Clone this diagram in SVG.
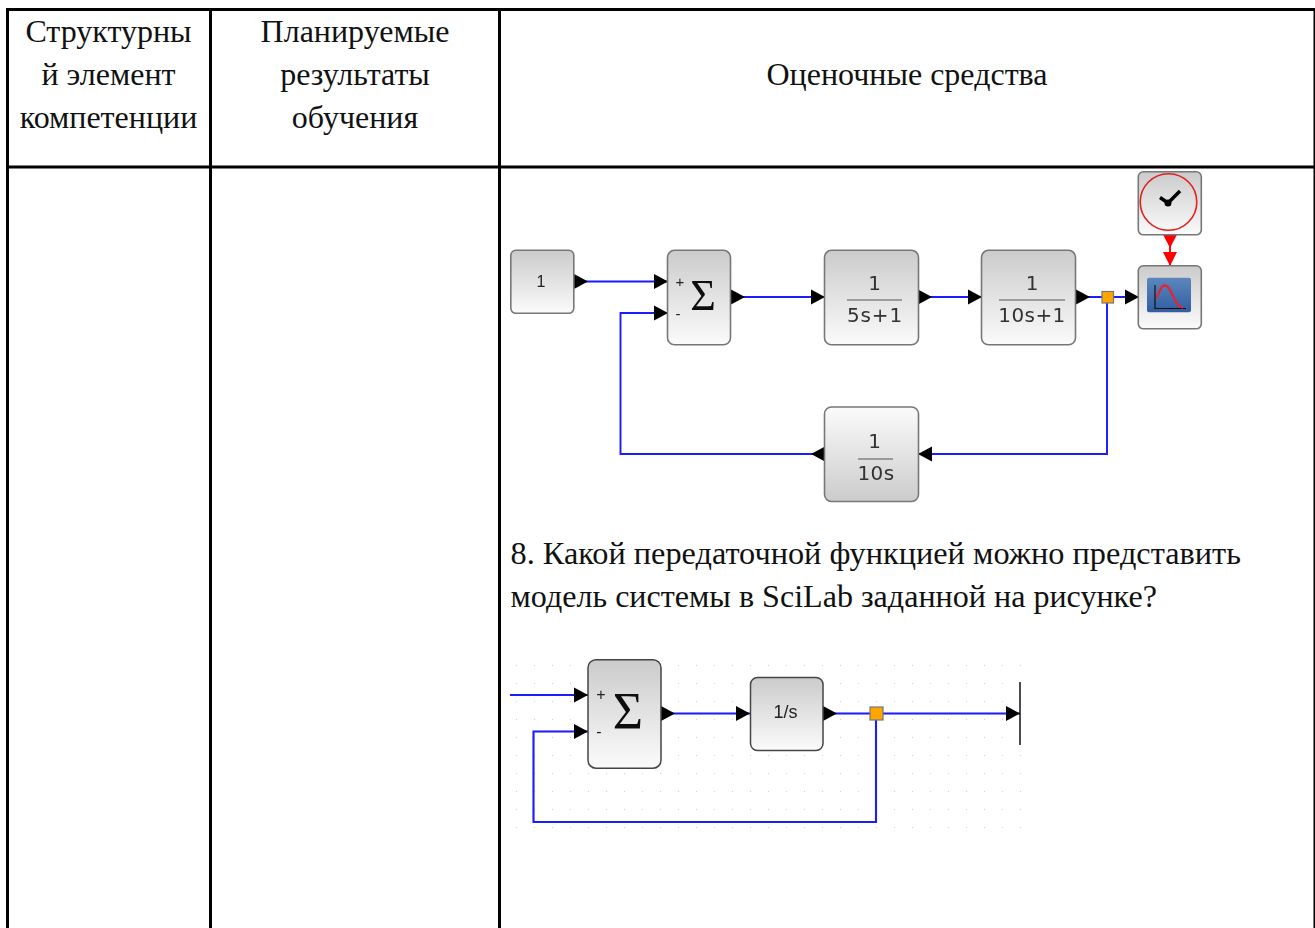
<svg xmlns="http://www.w3.org/2000/svg" width="1315" height="928" viewBox="0 0 1315 928">
<style>
.cell{font-family:"Liberation Serif","Times New Roman",serif;font-size:32px;fill:#111;text-anchor:middle}
.body{font-family:"Liberation Serif","Times New Roman",serif;font-size:32.2px;fill:#111}
.rule{fill:#000}
.blk{fill:url(#g);stroke:#777;stroke-width:1.6}
.blkF{fill:url(#gf);stroke:#777;stroke-width:1.6}
.blk2{fill:url(#g);stroke:#444;stroke-width:1.5}
.wire{fill:none;stroke:#1a1aff;stroke-width:1.9}
.wire2{fill:none;stroke:#1a1aff;stroke-width:2.1}
.math{font-family:"DejaVu Sans",sans-serif;font-size:20px;fill:#333;text-anchor:middle}
.sans{font-family:"Liberation Sans",Arial,sans-serif;fill:#222;text-anchor:middle}
.sig{font-family:"Liberation Serif",serif;fill:#111;text-anchor:middle}
.junc{fill:#ffa500;stroke:#777;stroke-width:1.2}
#connectors,g[id^="n-"]{filter:url(#soft)}
</style>
<defs>
<filter id="soft" filterUnits="userSpaceOnUse" x="0" y="0" width="1315" height="928"><feGaussianBlur stdDeviation="0.35"/></filter>
<linearGradient id="g" x1="0" y1="0" x2="0" y2="1"><stop offset="0" stop-color="#cbcbcb"/><stop offset="1" stop-color="#fbfbfb"/></linearGradient>
<linearGradient id="gf" x1="0" y1="0" x2="0" y2="1"><stop offset="0" stop-color="#fbfbfb"/><stop offset="1" stop-color="#cbcbcb"/></linearGradient>
<linearGradient id="sc" x1="0" y1="0" x2="0" y2="1"><stop offset="0" stop-color="#5e86bd"/><stop offset="1" stop-color="#2f5ea3"/></linearGradient>
<pattern id="dots" x="516" y="665" width="18" height="18" patternUnits="userSpaceOnUse"><rect x="0" y="0" width="1" height="1" fill="#cfcfcf"/></pattern>
<polygon id="pr" points="0,-7.500 14,0 0,7.500" fill="#000"/>
<polygon id="pl" points="14,-7.500 0,0 14,7.500" fill="#000"/>
</defs>
<rect width="1315" height="928" fill="#fff"/>

<g id="table">
<rect class="rule" x="6" y="8" width="1309" height="3"/>
<rect class="rule" x="6" y="165.500" width="1309" height="3"/>
<rect class="rule" x="6" y="8" width="3" height="920"/>
<rect class="rule" x="209" y="8" width="3" height="920"/>
<rect class="rule" x="498" y="8" width="3" height="920"/>
<rect class="rule" x="1313.500" y="8" width="1.500" height="920"/>
<text class="cell" x="108.500" y="42">Структурны</text>
<text class="cell" x="108.500" y="84.500">й элемент</text>
<text class="cell" x="108.500" y="127.500">компетенции</text>
<text class="cell" x="355" y="42">Планируемые</text>
<text class="cell" x="355" y="84.500">результаты</text>
<text class="cell" x="355" y="127.500">обучения</text>
<text class="cell" x="907" y="84.500">Оценочные средства</text>
<text class="body" x="510.500" y="563.500" style="font-size:32.3px">8. Какой передаточной функцией можно представить</text>
<text class="body" x="510.500" y="606.500" style="font-size:32.1px">модель системы в SciLab заданной на рисунке?</text>
</g>

<rect id="grid" x="514" y="658" width="510" height="170" fill="url(#dots)"/>

<g id="connectors">
<path class="wire" d="M574 281.500H667"/>
<path class="wire" d="M824 454H620.500V313H667"/>
<path class="wire" d="M731 297H824"/>
<path class="wire" d="M918 297H981"/>
<path class="wire" d="M1076 297H1138"/>
<path class="wire" d="M1107 297V454H918"/>
<path d="M1170 235V265" stroke="#f00" stroke-width="1.900" fill="none"/>
<polygon points="1163,234.500 1177,234.500 1170,248" fill="#f00"/>
<polygon points="1163,252 1177,252 1170,266" fill="#f00"/>
<use href="#pr" x="574" y="281.500"/>
<use href="#pr" x="654" y="281.500"/>
<use href="#pr" x="654" y="313"/>
<use href="#pr" x="731" y="297"/>
<use href="#pr" x="811" y="297"/>
<use href="#pr" x="918" y="297"/>
<use href="#pr" x="968" y="297"/>
<use href="#pr" x="1076" y="297"/>
<use href="#pr" x="1125" y="297"/>
<use href="#pl" x="811" y="454"/>
<use href="#pl" x="918" y="454"/>

<path class="wire2" d="M510 695H588"/>
<path class="wire2" d="M876 714V822H533.500V731.500H588"/>
<path class="wire2" d="M661 713.500H750"/>
<path class="wire2" d="M823 713.500H1020"/>
<use href="#pr" x="574" y="695"/>
<use href="#pr" x="574" y="731.500"/>
<use href="#pr" x="661" y="713.500"/>
<use href="#pr" x="736" y="713.500"/>
<use href="#pr" x="823" y="713.500"/>
<use href="#pr" x="1006" y="713.500"/>
</g>

<g id="n-const">
<rect class="blk" x="510.800" y="250.300" width="63" height="63" rx="5"/>
<text class="sans" x="541" y="287" font-size="16">1</text>
</g>
<g id="n-sum1">
<rect class="blk" x="667.500" y="250.300" width="63" height="94.500" rx="7"/>
<text class="sans" x="680" y="287" font-size="15">+</text>
<text class="sans" x="678" y="319" font-size="15">-</text>
<text class="sig" x="703" y="310" font-size="44">Σ</text>
</g>
<g id="n-tf1">
<rect class="blk" x="824.500" y="250.300" width="94" height="94.500" rx="7"/>
<text class="math" x="874.500" y="290">1</text>
<rect x="847" y="299.500" width="55" height="1" fill="#555"/>
<text class="math" x="875" y="322" letter-spacing="0.800">5s+1</text>
</g>
<g id="n-tf2">
<rect class="blk" x="981.500" y="250.300" width="94" height="94.500" rx="7"/>
<text class="math" x="1032" y="290">1</text>
<rect x="999" y="299.500" width="66" height="1" fill="#555"/>
<text class="math" x="1032" y="322" letter-spacing="0.400">10s+1</text>
</g>
<g id="n-tf3">
<rect class="blkF" x="824.500" y="407" width="94" height="94.500" rx="7"/>
<text class="math" x="874.500" y="448">1</text>
<rect x="858" y="458.500" width="35" height="1" fill="#555"/>
<text class="math" x="876" y="480" letter-spacing="0.400">10s</text>
</g>
<g id="n-split1">
<rect class="junc" x="1102" y="291.500" width="11.500" height="11.500"/>
</g>
<g id="n-clock">
<rect class="blk" x="1138.300" y="171.800" width="63" height="63" rx="5"/>
<circle cx="1168.500" cy="202" r="28.300" fill="none" stroke="#e02020" stroke-width="1.600"/>
<path d="M1180 191L1168 203L1160 197.500" fill="none" stroke="#000" stroke-width="3.500"/>
<circle cx="1168" cy="203" r="3.500" fill="#000"/>
</g>
<g id="n-scope">
<rect class="blk" x="1138.300" y="265.800" width="63" height="63" rx="5"/>
<rect x="1147" y="277.700" width="44" height="34.500" rx="2" fill="url(#sc)"/>
<path d="M1155 285V308.500H1186" fill="none" stroke="#111" stroke-width="1.200"/>
<path d="M1157 298C1160 287 1164 283 1168 287C1173 293 1175 306 1183 308" fill="none" stroke="#e8242a" stroke-width="2.200"/>
</g>

<g id="n-sum2">
<rect class="blk2" x="588" y="659.700" width="73" height="108.500" rx="8"/>
<text class="sans" x="601" y="700" font-size="16">+</text>
<text class="sans" x="599" y="737" font-size="16">-</text>
<text class="sig" x="628" y="729" font-size="52">Σ</text>
</g>
<g id="n-int">
<rect class="blk2" x="750.500" y="677.500" width="72.500" height="73" rx="7"/>
<text class="sans" x="785.500" y="718" font-size="18">1/s</text>
</g>
<g id="n-split2">
<rect class="junc" x="870" y="707" width="13" height="13"/>
</g>
<g id="n-sink">
<path d="M1020 682V745" stroke="#111" stroke-width="1.500" fill="none"/>
</g>
</svg>
